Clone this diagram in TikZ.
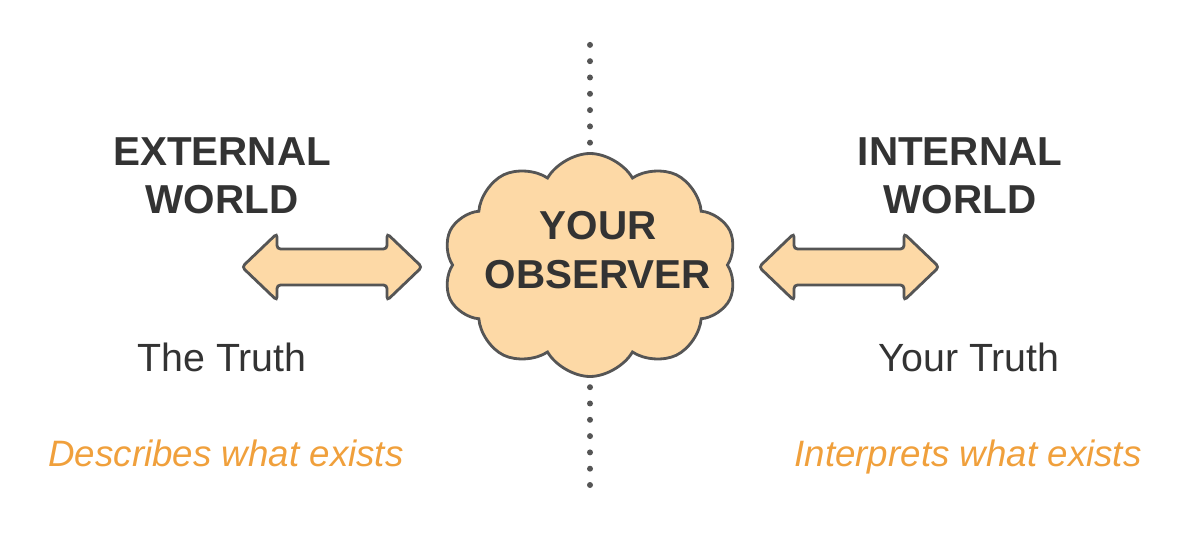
\documentclass[tikz,border=0pt]{standalone}
\usepackage{fontspec}
\setmainfont{Liberation Sans}
\usetikzlibrary{shapes.symbols}
\definecolor{txtgray}{HTML}{333333}
\definecolor{linegray}{HTML}{555555}
\definecolor{peach}{HTML}{FDD9A6}
\definecolor{orangetxt}{HTML}{F0A03C}
\tikzset{
  title/.style={text=txtgray, font=\fontsize{23}{27.5}\selectfont\bfseries, align=center},
  truth/.style={text=txtgray, font=\fontsize{22.4}{26}\selectfont},
  note/.style={text=orangetxt, font=\fontsize{20.9}{24}\selectfont\itshape, anchor=base},
  twoway/.pic={
    \filldraw[draw=linegray, fill=peach, line width=1.6pt, rounded corners=2pt]
      (-1.8,0) -- (-1.1,0.67) -- (-1.1,0.36) -- (1.1,0.36) -- (1.1,0.67) -- (1.8,0)
      -- (1.1,-0.67) -- (1.1,-0.36) -- (-1.1,-0.36) -- (-1.1,-0.67) -- cycle;
  }
}
\begin{document}
\begin{tikzpicture}
\useasboundingbox (0,0) rectangle (24.02,10.88);
% dotted divider
\foreach \i in {0,...,27} {
\fill[linegray] (11.8,1.18+\i*0.326) circle (0.06);
}
\node[cloud, cloud puffs=10, cloud puff arc=120, draw=linegray, fill=peach,
  line width=1.6pt, minimum width=5.88cm, minimum height=4.46cm, inner sep=0pt,
  label={[text=txtgray, font=\fontsize{23}{27.5}\selectfont\bfseries, align=center,
  xshift=0.16cm, yshift=0.3cm]center:YOUR\\OBSERVER}]
  (observer) at (11.8,5.58) {};
\pic (leftarrow) at (6.64,5.54) {twoway};
\pic (rightarrow) at (16.98,5.54) {twoway};
\node[title] (external) at (4.44,7.36) {EXTERNAL\\WORLD};
\node[title] (internal) at (19.2,7.36) {INTERNAL\\WORLD};
\node[truth] (thetruth) at (4.44,3.74) {The Truth};
\node[truth] (yourtruth) at (19.38,3.74) {Your Truth};
\node[note] (describes) at (4.52,1.56) {Describes what exists};
\node[note] (interprets) at (19.36,1.56) {Interprets what exists};
\end{tikzpicture}
\end{document}
